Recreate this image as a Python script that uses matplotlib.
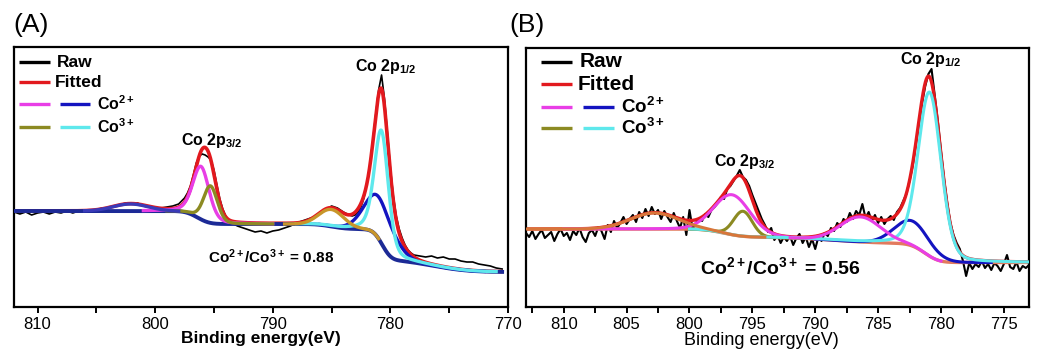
import math
import numpy as np
import matplotlib
matplotlib.use("Agg")
import matplotlib.pyplot as plt

plt.rcParams['font.family'] = ['Liberation Sans', 'DejaVu Sans']
plt.rcParams['mathtext.fontset'] = 'custom'
plt.rcParams['mathtext.rm'] = 'Liberation Sans'
plt.rcParams['mathtext.bf'] = 'Liberation Sans:bold'
plt.rcParams['mathtext.it'] = 'Liberation Sans:italic'

# ---------------- Panel A data ----------------
raw_A_E = [812, 811.5, 811, 810.5, 810, 809.5, 809, 808.5, 808, 807.5, 807, 806.5, 806, 805.5, 805,
           804.5, 804, 803.5, 803, 802.5, 802, 801.5, 801, 800.5, 800, 799.5, 799, 798.5, 798,
           797.75, 797.5, 797.25, 797, 796.75, 796.5, 796.25, 796, 795.75, 795.5, 795.25, 795,
           794.75, 794.5, 794.25, 794, 793.75, 793.5,
           793, 792.5, 792, 791.5, 791, 790.5, 790, 789.5, 789, 788.5, 788, 787.5, 787, 786.5,
           786, 785.5, 785, 784.5, 784, 783.5,
           783.25, 783, 782.75, 782.5, 782.25, 782, 781.75, 781.5, 781.25, 781, 780.75, 780.5,
           780.25, 780, 779.75, 779.5, 779.25, 779, 778.75, 778.5, 778.25, 778,
           777.5, 777, 776.5, 776, 775.5, 775, 774.5, 774, 773.5, 773, 772.5, 772, 771.5, 771, 770.5]
raw_A_I = [95, 93, 95, 92, 94, 95, 93, 95, 94, 96, 94, 96, 95, 97, 97,
           99, 98, 101, 102, 104, 103, 104, 101, 100, 98, 99, 100, 101, 103,
           106, 109, 114, 121, 132, 144, 151, 153, 152, 150, 147, 137,
           122, 108, 98, 91, 87, 84,
           81, 79, 77, 75, 76, 74, 76, 77, 79, 81, 84, 86, 88, 90,
           93, 97, 101, 99, 95, 92,
           91, 92, 95, 100, 109, 124, 141, 166, 192, 217, 232, 208,
           174, 139, 111, 91, 78, 69, 62, 57, 54, 52,
           51, 50, 51, 49, 50, 48, 48, 46, 45, 45, 43, 42, 41, 39, 38]

bg_A_base = 35.0
bg_A_step_center = [796.4, 785.0, 780.7, 776.5]
bg_A_step_height = [13.0, 5.0, 30.0, 13.0]
bg_A_step_width = [0.8, 1.0, 0.6, 2.5]

peak_A_center = [796.1, 795.3, 780.9, 780.75, 802.1, 785.0]
peak_A_height = [53, 37, 42, 113, 7, 17]
peak_A_fwhm = [1.65, 1.4, 2.9, 1.4, 3.5, 2.5]
peak_A_eta = [0.3, 0.2, 0.1, 0.35, 0.0, 0.0]
peak_A_span = [(801, 790), (799, 790), (786, 772), (788, 771), (806, 798), (789, 781)]
peak_A_color = ['#e83ee6', '#8c8a22', '#1414c0', '#5ee8ec', '#3a3ab8', '#c8962a']

# ---------------- Panel B data ----------------
raw_B_start, raw_B_step = 813.0, 0.25
raw_B_I = [74, 70, 76, 68, 73, 77, 69, 72, 75, 66, 73, 78, 71, 74, 67, 76,
           72, 79, 70, 65, 74, 77, 71, 80, 76, 68, 82, 75, 86, 79, 84, 90,
           83, 88, 92, 85, 95, 89, 98, 91, 100, 93, 97, 88, 96, 90, 85, 94,
           86, 79, 90, 72, 97, 78, 84, 88, 86, 93, 90, 97, 100, 104, 110, 108,
           118, 121, 126, 131, 137, 130, 127, 121, 112, 104, 96, 88, 82, 75, 79, 67,
           72, 64, 70, 66, 71, 62, 69, 73, 64, 70, 60, 68, 58, 70, 66, 74,
           71, 79, 76, 84, 80, 88, 85, 94, 88, 96, 92, 103, 89, 95, 86, 92,
           84, 90, 83, 88, 91, 87, 95, 99, 106, 113, 126, 141, 162, 183, 204, 221,
           233, 238, 212, 186, 156, 128, 104, 84, 72, 64, 58, 46, 31, 44, 38, 43,
           40, 46, 39, 43, 37, 44, 41, 36, 43, 52, 40, 38, 45, 36, 41, 39, 42]
raw_B_E = [raw_B_start - raw_B_step * i for i in range(len(raw_B_I))]

bg_B_base = 44.5
bg_B_step_center = [797.3, 788.5, 781.3]
bg_B_step_height = [8.0, 6.5, 19.0]
bg_B_step_width = [1.2, 3.0, 0.9]

peak_B_center = [796.6, 795.75, 782.3, 780.9, 802.8, 786.4]
peak_B_height = [40, 25, 25, 164, 16, 25]
peak_B_fwhm = [3.4, 1.75, 3.3, 2.15, 4.5, 3.8]
peak_B_eta = [0.1, 0.0, 0.0, 0.2, 0.0, 0.0]
peak_B_span = [(810, 790), (800, 791), (790, 776), (800, 773), (813, 794), (792, 780)]
peak_B_color = ['#e83ee6', '#8c8a22', '#1414c0', '#5ee8ec', '#d8763a', '#e83ee6']

_erf = np.vectorize(math.erf)


def background(E, base, centers, heights, widths):
    out = np.full_like(E, base, dtype=float)
    for c, h, w in zip(centers, heights, widths):
        out += h * 0.5 * (1 + _erf((E - c) / (w * math.sqrt(2))))
    return out


def pvoigt(E, c, h, fwhm, eta):
    d = (E - c) / fwhm
    return h * (eta / (1 + 4 * d ** 2) + (1 - eta) * np.exp(-4 * math.log(2) * d ** 2))


W, H = 1038, 352
fig = plt.figure(figsize=(W / 100, H / 100), dpi=100)

RED = '#e2191e'


def style_axes(ax, xlim, major, minor, ylim):
    ax.set_xlim(*xlim)
    ax.set_ylim(*ylim)
    ax.set_yticks([])
    ax.xaxis.set_major_locator(matplotlib.ticker.MultipleLocator(major))
    ax.xaxis.set_minor_locator(matplotlib.ticker.MultipleLocator(minor))
    ax.tick_params(axis='x', which='both', direction='out', width=1.4, length=4.5, pad=2.5,
                   labelsize=12)
    for s in ax.spines.values():
        s.set_linewidth(1.6)


def panel(ax, raw_E, raw_I, bgpars, centers, heights, fwhms, etas, spans, colors,
          bgcolor, order, lw):
    E = np.linspace(max(raw_E), min(raw_E), 4000)
    bg = background(E, *bgpars)
    comps = [pvoigt(E, c, h, f, e) for c, h, f, e in zip(centers, heights, fwhms, etas)]
    fit = bg + np.sum(comps, axis=0)
    ax.plot(raw_E, raw_I, color='black', lw=lw[0], zorder=1)
    ax.plot(E, fit, color=RED, lw=lw[1], zorder=2, solid_capstyle='round')
    ax.plot(E, bg, color=bgcolor, lw=lw[2], zorder=order['bg'])
    for comp, (hi, lo), col in zip(comps, spans, colors):
        m = (E <= hi) & (E >= lo)
        ax.plot(E[m], (bg + comp)[m], color=col, lw=lw[3], zorder=order['comp'])


def legend(ax, xs, ys, fs):
    kw = dict(transform=ax.transAxes, solid_capstyle='butt', clip_on=False, lw=2.4, zorder=6)
    ax.plot(xs['l1'], [ys[0]] * 2, color='black', **kw)
    ax.plot(xs['l2'], [ys[1]] * 2, color=RED, **kw)
    ax.plot(xs['l1'], [ys[2]] * 2, color='#e83ee6', **kw)
    ax.plot(xs['l3'], [ys[2]] * 2, color='#1414c0', **kw)
    ax.plot(xs['l1'], [ys[3]] * 2, color='#8c8a22', **kw)
    ax.plot(xs['l3'], [ys[3]] * 2, color='#5ee8ec', **kw)
    tk = dict(transform=ax.transAxes, fontweight='bold', va='center', ha='left', zorder=6)
    ax.text(xs['t1'], ys[0], 'Raw', fontsize=fs[0], **tk)
    ax.text(xs['t2'], ys[1], 'Fitted', fontsize=fs[0], **tk)
    ax.text(xs['t3'], ys[2], r'Co$^{\mathbf{2+}}$', fontsize=fs[1], **tk)
    ax.text(xs['t3'], ys[3], r'Co$^{\mathbf{3+}}$', fontsize=fs[1], **tk)


# ---------------- Panel A ----------------
axA = fig.add_axes([14 / W, 1 - 307 / H, 494 / W, 260 / H])
panel(axA, raw_A_E, raw_A_I,
      (bg_A_base, bg_A_step_center, bg_A_step_height, bg_A_step_width),
      peak_A_center, peak_A_height, peak_A_fwhm, peak_A_eta, peak_A_span, peak_A_color,
      '#1c2a96', {'bg': 3, 'comp': 4}, (1.2, 2.6, 2.8, 2.4))
style_axes(axA, (812, 770), 10, 5, (0, 260))
axA.set_xlabel('Binding energy(eV)', fontsize=12.5, fontweight='bold')
axA.xaxis.set_label_coords(0.5, -0.123)
axA.xaxis.label.set_va('center')
legend(axA, {'l1': [0.010, 0.073], 'l2': [0.010, 0.073], 'l3': [0.093, 0.154],
             't1': 0.087, 't2': 0.083, 't3': 0.168},
       [0.942, 0.865, 0.781, 0.692], (12.5, 11.5))
tA = dict(transform=axA.transAxes, fontweight='bold', va='center', ha='left', zorder=6)
axA.text(0.690, 0.925, r'Co 2p$_{\mathbf{1/2}}$', fontsize=11.5, **tA)
axA.text(0.338, 0.640, r'Co 2p$_{\mathbf{3/2}}$', fontsize=11.5, **tA)
axA.text(0.393, 0.192, r'Co$^{\mathbf{2+}}$/Co$^{\mathbf{3+}}$ = 0.88', fontsize=11, **tA)

# ---------------- Panel B ----------------
axB = fig.add_axes([526 / W, 1 - 307 / H, 503 / W, 259 / H])
panel(axB, raw_B_E, raw_B_I,
      (bg_B_base, bg_B_step_center, bg_B_step_height, bg_B_step_width),
      peak_B_center, peak_B_height, peak_B_fwhm, peak_B_eta, peak_B_span, peak_B_color,
      '#e27a5e', {'bg': 2.5, 'comp': 3}, (1.5, 2.4, 2.4, 2.2))
style_axes(axB, (813, 773), 5, 2.5, (0, 259))
axB.set_xlabel('Binding energy(eV)', fontsize=13)
axB.xaxis.set_label_coords(0.467, -0.13)
axB.xaxis.label.set_va('center')
legend(axB, {'l1': [0.030, 0.092], 'l2': [0.030, 0.092], 'l3': [0.113, 0.175],
             't1': 0.107, 't2': 0.103, 't3': 0.189},
       [0.946, 0.861, 0.772, 0.691], (15, 13.5))
tB = dict(transform=axB.transAxes, fontweight='bold', va='center', ha='left', zorder=6)
axB.text(0.7435, 0.955, r'Co 2p$_{\mathbf{1/2}}$', fontsize=11.5, **tB)
axB.text(0.374, 0.562, r'Co 2p$_{\mathbf{3/2}}$', fontsize=11.5, **tB)
axB.text(0.346, 0.154, r'Co$^{\mathbf{2+}}$/Co$^{\mathbf{3+}}$ = 0.56', fontsize=14, **tB)

fig.text(13 / W, 1 - 25 / H, '(A)', fontsize=19, va='center', ha='left')
fig.text(509 / W, 1 - 25 / H, '(B)', fontsize=19, va='center', ha='left')

fig.savefig('out.png', dpi=100)
